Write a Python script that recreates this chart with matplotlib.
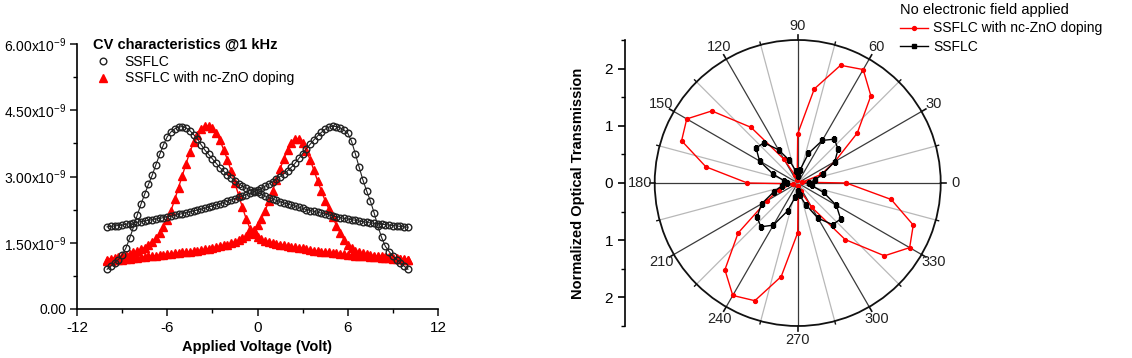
import numpy as np
import matplotlib
matplotlib.use("Agg")
import matplotlib.pyplot as plt
from matplotlib.ticker import FuncFormatter, MultipleLocator
from matplotlib.lines import Line2D

plt.rcParams['font.family'] = ['Liberation Sans', 'DejaVu Sans']
plt.rcParams['mathtext.fontset'] = 'custom'
plt.rcParams['mathtext.rm'] = 'Liberation Sans'
plt.rcParams['mathtext.it'] = 'Liberation Sans:italic'
plt.rcParams['mathtext.bf'] = 'Liberation Sans:bold'

# ---- CV data (capacitance in units of 1e-9), voltage -10..10 step 0.25 ----
voltage = np.arange(-10, 10.001, 0.25)

ssflc_fwd = [0.90, 0.97, 1.05, 1.12, 1.22, 1.38, 1.60, 1.85, 2.12, 2.37, 2.60, 2.82,
             3.03, 3.27, 3.50, 3.72, 3.90, 4.01, 4.08, 4.12, 4.13, 4.10, 4.04, 3.95,
             3.85, 3.72, 3.60, 3.50, 3.40, 3.30, 3.20, 3.12, 3.04, 2.97, 2.90, 2.84,
             2.78, 2.74, 2.70, 2.67, 2.64, 2.60, 2.56, 2.52, 2.49, 2.46, 2.43, 2.40,
             2.38, 2.35, 2.33, 2.30, 2.28, 2.25, 2.23, 2.21, 2.19, 2.17, 2.15, 2.13,
             2.11, 2.09, 2.07, 2.05, 2.04, 2.02, 2.01, 1.99, 1.98, 1.96, 1.95, 1.94,
             1.93, 1.92, 1.91, 1.90, 1.89, 1.88, 1.87, 1.86, 1.85]

ssflc_rev = [1.86, 1.87, 1.88, 1.89, 1.90, 1.92, 1.93, 1.95, 1.96, 1.98, 1.99, 2.01,
             2.02, 2.04, 2.05, 2.07, 2.09, 2.10, 2.12, 2.14, 2.16, 2.18, 2.20, 2.22,
             2.24, 2.26, 2.28, 2.31, 2.33, 2.36, 2.38, 2.41, 2.44, 2.47, 2.50, 2.53,
             2.56, 2.59, 2.62, 2.66, 2.69, 2.73, 2.78, 2.83, 2.88, 2.94, 3.00, 3.06,
             3.13, 3.21, 3.30, 3.41, 3.52, 3.63, 3.73, 3.83, 3.92, 4.00, 4.07, 4.12,
             4.14, 4.13, 4.10, 4.05, 3.98, 3.80, 3.52, 3.22, 2.93, 2.68, 2.45, 2.18,
             1.88, 1.62, 1.42, 1.30, 1.20, 1.12, 1.04, 0.97, 0.90]

zno_fwd = [1.12, 1.14, 1.16, 1.18, 1.20, 1.22, 1.25, 1.28, 1.31, 1.35, 1.39, 1.45,
           1.52, 1.61, 1.72, 1.86, 2.02, 2.23, 2.48, 2.75, 3.02, 3.29, 3.55, 3.77,
           3.95, 4.08, 4.14, 4.15, 4.10, 3.98, 3.82, 3.61, 3.38, 3.12, 2.85, 2.57,
           2.30, 2.04, 1.82, 1.70, 1.63, 1.58, 1.55, 1.52, 1.50, 1.48, 1.46, 1.44,
           1.43, 1.41, 1.40, 1.38, 1.37, 1.35, 1.34, 1.32, 1.31, 1.30, 1.29, 1.28,
           1.27, 1.26, 1.25, 1.24, 1.23, 1.22, 1.21, 1.20, 1.20, 1.19, 1.18, 1.17,
           1.17, 1.16, 1.15, 1.15, 1.14, 1.13, 1.13, 1.12, 1.12]

zno_rev = [1.08, 1.09, 1.10, 1.11, 1.12, 1.13, 1.14, 1.15, 1.16, 1.17, 1.18, 1.19,
           1.20, 1.21, 1.22, 1.23, 1.24, 1.25, 1.26, 1.27, 1.28, 1.29, 1.30, 1.31,
           1.32, 1.33, 1.35, 1.36, 1.38, 1.40, 1.42, 1.44, 1.46, 1.49, 1.52, 1.56,
           1.60, 1.65, 1.72, 1.80, 1.90, 2.04, 2.22, 2.44, 2.68, 2.93, 3.17, 3.40,
           3.60, 3.76, 3.85, 3.84, 3.75, 3.58, 3.38, 3.14, 2.90, 2.67, 2.45, 2.26,
           2.08, 1.89, 1.72, 1.57, 1.45, 1.37, 1.32, 1.29, 1.26, 1.24, 1.22, 1.21,
           1.20, 1.19, 1.18, 1.17, 1.16, 1.15, 1.14, 1.13, 1.12]

# ---- polar transmission data, angle 0..350 step 10 ----
angles_deg = np.arange(0, 360, 10)
trans_zno = [0.85, 0.08, 0.44, 0.75, 1.36, 1.99, 2.29, 2.19, 1.67, 0.86, 0.05, 0.15,
             0.48, 1.27, 1.96, 2.24, 2.16, 1.63, 0.88, 0.08, 0.35, 0.62, 1.36, 1.98,
             2.27, 2.19, 1.66, 0.87, 0.05, 0.15, 0.49, 1.29, 1.98, 2.26, 2.15, 1.66]
trans_ssflc = [0.20, 0.30, 0.47, 0.75, 0.92, 1.00, 0.86, 0.55, 0.23, 0.12, 0.22, 0.42,
               0.67, 0.92, 0.95, 0.77, 0.46, 0.25, 0.18, 0.28, 0.44, 0.73, 0.93, 1.00,
               0.85, 0.52, 0.25, 0.14, 0.22, 0.40, 0.71, 0.95, 0.98, 0.78, 0.48, 0.25]

W, H = 1132, 358
fig = plt.figure(figsize=(W / 100, H / 100), dpi=100)

# ================= left: CV curves =================
ax = fig.add_axes([77 / W, 1 - 309 / H, (438 - 77) / W, (309 - 44) / H])
red = '#ff0000'
blk = '#222222'
for ys in (zno_fwd, zno_rev):
    c = np.array(ys) * 1e-9
    ax.plot(voltage, c, '-', color=red, lw=1.0, zorder=2)
    ax.plot(voltage, c, '^', color=red, ms=5.5, mec=red, zorder=3)
for ys in (ssflc_fwd, ssflc_rev):
    c = np.array(ys) * 1e-9
    ax.plot(voltage, c, '-', color=blk, lw=0.8, zorder=4)
    ax.plot(voltage, c, 'o', mfc='none', mec=blk, ms=4.8, mew=1.0, zorder=5)

ax.set_xlim(-12, 12)
ax.set_ylim(0, 6e-9)
ax.xaxis.set_major_locator(MultipleLocator(6))
ax.xaxis.set_minor_locator(MultipleLocator(3))
ax.yaxis.set_major_locator(MultipleLocator(1.5e-9))
ax.yaxis.set_minor_locator(MultipleLocator(0.75e-9))


def cap_fmt(v, pos):
    if abs(v) < 1e-15:
        return '0.00'
    return '%.2fx10$^{-9}$' % (v * 1e9)


ax.yaxis.set_major_formatter(FuncFormatter(cap_fmt))
ax.xaxis.set_major_formatter(FuncFormatter(lambda v, p: '%d' % v))
for s in ('top', 'right'):
    ax.spines[s].set_visible(False)
for s in ('left', 'bottom'):
    ax.spines[s].set_linewidth(1.2)
ax.tick_params(which='major', length=5, width=1.2, color='#222')
ax.tick_params(which='minor', length=3, width=1.0)
ax.tick_params(axis='y', labelsize=10, pad=2.5)
ax.tick_params(axis='x', labelsize=11)
ax.set_xlabel('Applied Voltage (Volt)', fontsize=10.5, fontweight='bold', labelpad=4)

h1 = Line2D([], [], ls='none', marker='o', mfc='none', mec=blk, ms=4.8, mew=1.0)
h2 = Line2D([], [], ls='none', marker='^', color=red, ms=5.5)
leg = ax.legend([h1, h2], ['SSFLC', 'SSFLC with nc-ZnO doping'],
                title='CV characteristics @1 kHz', loc='upper left',
                bbox_to_anchor=(0.017, 1.06), frameon=False, fontsize=10,
                alignment='left', handlelength=1.5, handletextpad=0.8,
                labelspacing=0.2, borderpad=0.2)
leg.get_title().set_fontweight('bold')
leg.get_title().set_fontsize(10.5)

# ================= right: polar plot =================
cx, cy, R = 797.7, 183.0, 143.0
rmax = 2.5
axp = fig.add_axes([(cx - R) / W, 1 - (cy + R) / H, 2 * R / W, 2 * R / H],
                   projection='polar')
axp.set_ylim(0, rmax)
axp.grid(False)
axp.set_xticks([])
axp.set_yticks([])
axp.spines['polar'].set_linewidth(1.3)
axp.spines['polar'].set_color('#111')

for deg in range(0, 360, 15):
    th = np.deg2rad(deg)
    if deg % 30 == 0:
        axp.plot([th, th], [0, rmax], color='#3a3a3a', lw=0.9, zorder=1)
        axp.plot([th, th], [rmax, rmax * 1.035], color='#111', lw=1.2,
                 clip_on=False, zorder=1)
        axp.text(th, rmax * 1.1, str(deg), ha='center', va='center', fontsize=10.5,
                 color='#222')
    else:
        axp.plot([th, th], [0, rmax], color='#b8b8b8', lw=0.9, zorder=1)
        axp.plot([th, th], [rmax, rmax * 1.02], color='#111', lw=1.0,
                 clip_on=False, zorder=1)

th = np.deg2rad(np.append(angles_deg, 360))
axp.plot(th, np.append(trans_zno, trans_zno[0]), '-o', color=red, lw=1.0, ms=2.8,
         zorder=3)
axp.plot(th, np.append(trans_ssflc, trans_ssflc[0]), '-s', color='black', lw=1.0,
         ms=2.6, zorder=4)

# radial scale on the left
axr = fig.add_axes([625 / W, 1 - (cy + R) / H, 0.0001, 2 * R / H])
axr.set_ylim(-rmax, rmax)
for s in ('top', 'right', 'bottom'):
    axr.spines[s].set_visible(False)
axr.spines['left'].set_linewidth(1.2)
axr.set_xticks([])
axr.set_yticks([-2, -1, 0, 1, 2])
axr.set_yticklabels(['2', '1', '0', '1', '2'])
axr.yaxis.set_minor_locator(MultipleLocator(0.5))
axr.tick_params(which='major', length=5, width=1.2, labelsize=11)
axr.tick_params(which='minor', length=3, width=1.0)
axr.patch.set_visible(False)
axr.set_ylabel('Normalized Optical Transmission', fontsize=10.5, fontweight='bold',
               labelpad=14)

hz = Line2D([], [], color=red, lw=1.0, marker='o', ms=2.8)
hs = Line2D([], [], color='black', lw=1.0, marker='s', ms=2.6)
leg2 = fig.legend([hz, hs], ['SSFLC with nc-ZnO doping', 'SSFLC'],
                  title='No electronic field applied', loc='upper left',
                  bbox_to_anchor=(890 / W, 1.02), frameon=False, fontsize=10,
                  alignment='left', handlelength=2.0, handletextpad=0.4,
                  labelspacing=0.35, borderpad=0.2, title_fontsize=10.5)

fig.savefig('out.png', dpi=100)
